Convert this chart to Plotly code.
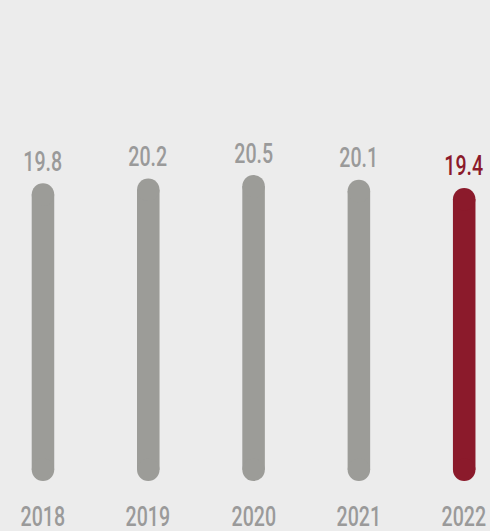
import plotly.graph_objects as go

# Annual values shown as rounded vertical bars
years = ["2018", "2019", "2020", "2021", "2022"]
values = [19.8, 20.2, 20.5, 20.1, 19.4]
value_labels = ["19.8", "20.2", "20.5", "20.1", "19.4"]

GRAY = "#9c9c98"
TEXT_GRAY = "#9a9a9a"
RED = "#8b1a2b"
BG = "#ececec"
FONT = "Roboto, DejaVu Sans Condensed, sans-serif"
FONT_SIZE = 28
FONT_WEIGHT = 500
TEXT_SQUEEZE = 0.70   # horizontal condensing applied to the labels

FLOOR = -5.52         # value where the bars end at the bottom
Y_RANGE = [-9.77, 35.38]
PX_PER_UNIT = 531 / (Y_RANGE[1] - Y_RANGE[0])
CAP_PX = 22.5         # bar thickness / end-cap diameter in pixels
R = (CAP_PX / 2) / PX_PER_UNIT   # cap radius in data units
BAR_W = 0.214

colors = [GRAY] * (len(years) - 1) + [RED]
label_colors = [TEXT_GRAY] * (len(years) - 1) + [RED]

fig = go.Figure()
# straight body of each bar
fig.add_trace(go.Bar(
    x=years, y=[v - R - (FLOOR + R) for v in values], base=[FLOOR + R] * len(years),
    marker=dict(color=colors, line=dict(width=0)), width=BAR_W,
    hoverinfo="skip", showlegend=False,
))
# round caps at top and bottom
fig.add_trace(go.Scatter(
    x=years + years, y=[v - R for v in values] + [FLOOR + R] * len(years),
    mode="markers",
    marker=dict(size=CAP_PX, color=colors + colors, line=dict(width=0)),
    hoverinfo="skip", showlegend=False,
))

# value labels above the bars and year labels below (x given as category index)
annotations = []
for i, (yr, v, lab, c) in enumerate(zip(years, values, value_labels, label_colors)):
    annotations.append(dict(
        x=i, y=v, xref="x", yref="y", text=lab, showarrow=False,
        yanchor="middle", yshift=22, borderpad=0,
        font=dict(family=FONT, size=FONT_SIZE, color=c, weight=FONT_WEIGHT),
    ))
    annotations.append(dict(
        x=i, y=FLOOR, xref="x", yref="y", text=yr, showarrow=False,
        yanchor="middle", yshift=-35, borderpad=0,
        font=dict(family=FONT, size=FONT_SIZE, color=TEXT_GRAY, weight=FONT_WEIGHT),
    ))

fig.update_layout(
    width=490, height=531,
    margin=dict(l=0, r=0, t=0, b=0),
    paper_bgcolor=BG, plot_bgcolor=BG,
    barmode="overlay",
    xaxis=dict(type="category", range=[-0.408, 4.245], visible=False, fixedrange=True),
    yaxis=dict(range=Y_RANGE, visible=False, fixedrange=True),
    annotations=annotations,
)

# condense the label glyphs horizontally around their own centres
post_js = """
(function () {
  var gd = document.getElementById('{plot_id}');
  function squeeze() {
    gd.querySelectorAll('text.annotation-text').forEach(function (t) {
      t.removeAttribute('transform');
      var bb = t.getBBox();
      var cx = bb.x + bb.width / 2;
      t.setAttribute('transform',
        'translate(' + cx + ',0) scale(%s,1) translate(' + (-cx) + ',0)');
    });
  }
  squeeze();
  if (gd.on) { gd.on('plotly_afterplot', squeeze); }
  setTimeout(squeeze, 50);
})();
""" % TEXT_SQUEEZE

fig.write_html("out.html", post_script=post_js)
